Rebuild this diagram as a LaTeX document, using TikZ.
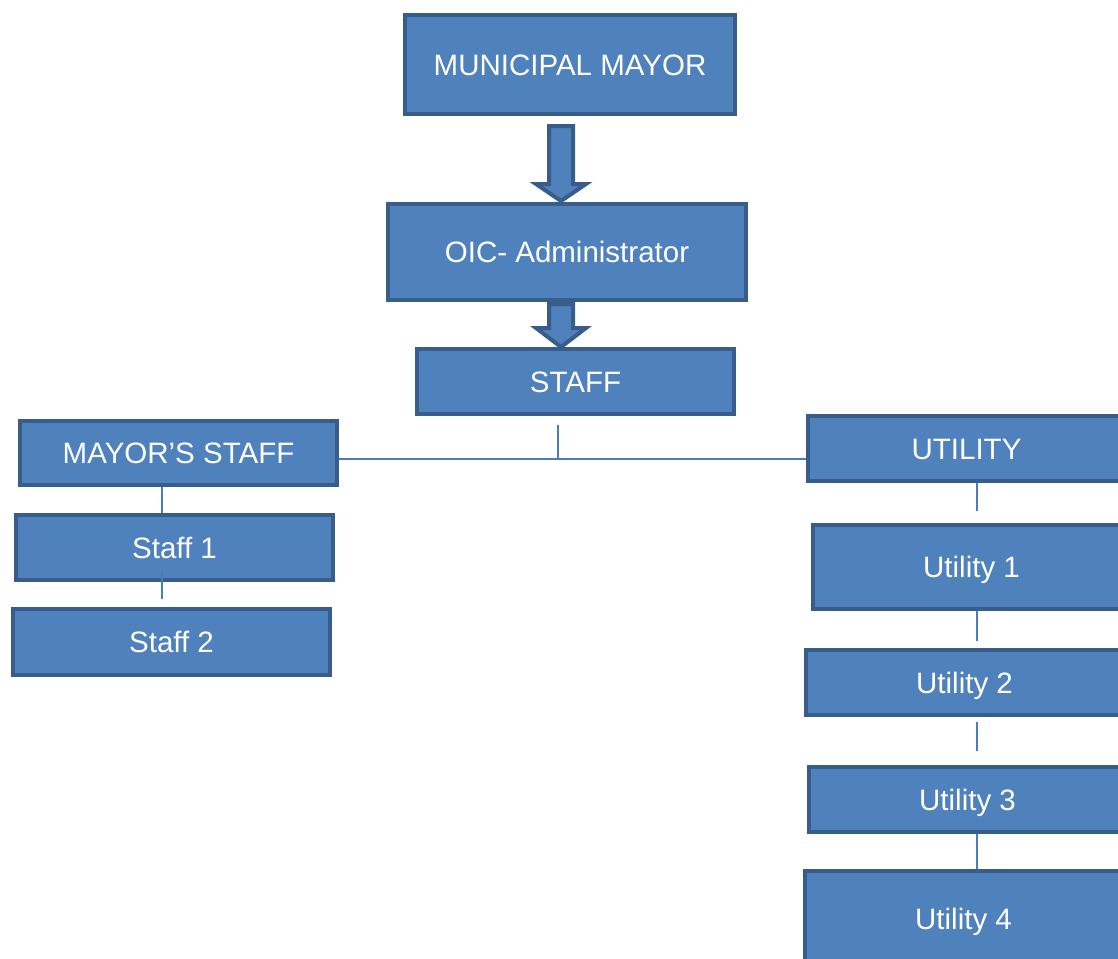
\documentclass[tikz,border=0pt]{standalone}
\usepackage{fontspec}
\setmainfont{Liberation Sans}
\usepackage{tikz}
\usetikzlibrary{shapes,arrows}
\definecolor{boxfill}{HTML}{4F81BD}
\definecolor{boxline}{HTML}{385D8A}
\definecolor{linkline}{HTML}{4A7EBB}
\tikzstyle{box} = [draw=boxline, fill=boxfill, line width=4pt, rectangle, text=white, font=\fontsize{29.5}{35}\selectfont, text height=21pt, text depth=0pt, inner sep=0pt, minimum width=317pt, minimum height=65pt]
\tikzstyle{link} = [draw=linkline, line width=2pt]
\tikzstyle{bigarrow} = [draw=boxline, fill=boxfill, line width=4pt]

\begin{document}
\begin{tikzpicture}[x=1pt, y=-1pt, node distance=100pt]
    \clip (0,0) rectangle (1118,958);
    \node [box, minimum width=330pt, minimum height=99pt] (mayor) at (570,64.5) {MUNICIPAL MAYOR};
    \node [box, below of=mayor, node distance=187.5pt, xshift=-3pt, minimum width=358pt, minimum height=96pt] (oic) {OIC- Administrator};
    \node [box, below of=oic, node distance=129.5pt, xshift=8.5pt] (staff) {STAFF};
    \draw [bigarrow] ([xshift=-21pt, yshift=-10pt]mayor.south) -- ++(24,0) -- ++(0,58) -- ++(13,0) -- ++(-25,17) -- ++(-25,-17) -- ++(13,0) -- cycle;
    \draw [bigarrow] ([xshift=-18pt, yshift=-2pt]oic.south) -- ++(24,0) -- ++(0,24) -- ++(13,0) -- ++(-25,19) -- ++(-25,-19) -- ++(13,0) -- cycle;

    \node [box, below of=staff, node distance=71.5pt, xshift=-397pt, minimum height=64pt] (mstaff) {MAYOR’S STAFF};
    \node [box, below of=mstaff, node distance=94.5pt, xshift=-4pt] (staff1) {Staff 1};
    \node [box, below of=staff1, node distance=94.5pt, xshift=-3pt, minimum height=66pt] (staff2) {Staff 2};

    \node [box, below of=staff, node distance=67pt, xshift=391pt] (utility) {UTILITY};
    \node [box, below of=utility, node distance=118.5pt, xshift=5pt, minimum height=84pt] (util1) {Utility 1};
    \node [box, below of=util1, node distance=115.5pt, xshift=-7pt] (util2) {Utility 2};
    \node [box, below of=util2, node distance=117pt, xshift=3pt] (util3) {Utility 3};
    \node [box, below of=util3, node distance=119.5pt, xshift=-4pt, minimum height=96pt] (util4) {Utility 4};

    \coordinate (junction) at (558,459);
    \coordinate (lspine) at (162,0);
    \coordinate (rspine) at (977,0);
    \draw [link, shorten <=9pt] (staff.south -| junction) -- (junction);
    \draw [link] (mstaff.east |- junction) -- (utility.west |- junction);
    \draw [link] (mstaff.south -| lspine) -- (staff1.north -| lspine);
    \draw [link, shorten <=-12pt, shorten >=8pt] (staff1.south -| lspine) -- (staff2.north -| lspine);
    \draw [link, shorten >=12pt] (utility.south -| rspine) -- (util1.north -| rspine);
    \draw [link, shorten >=7pt] (util1.south -| rspine) -- (util2.north -| rspine);
    \draw [link, shorten <=5pt, shorten >=14pt] (util2.south -| rspine) -- (util3.north -| rspine);
    \draw [link] (util3.south -| rspine) -- (util4.north -| rspine);
\end{tikzpicture}
\end{document}
